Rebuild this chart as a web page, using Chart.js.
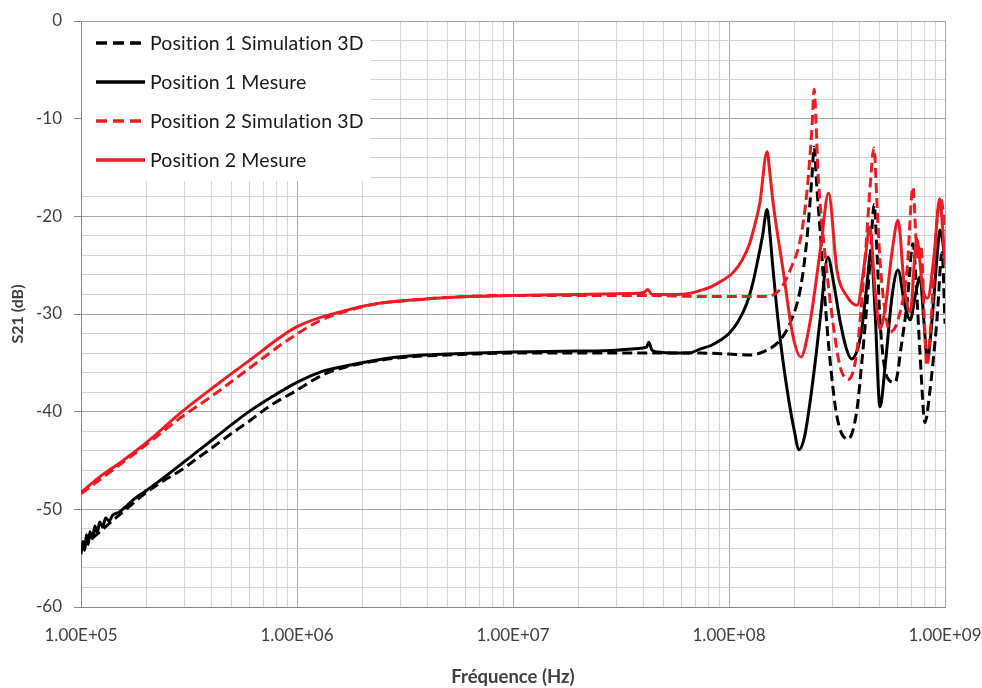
<!DOCTYPE html>
<html>
<head>
<meta charset="utf-8">
<title>S21</title>
<script src="https://cdn.jsdelivr.net/npm/chart.js@4.4.1/dist/chart.umd.min.js"></script>
<style>
  html, body { margin: 0; padding: 0; background: #fff; }
  #wrap { width: 982px; height: 688px; position: relative; }
</style>
</head>
<body>
<div id="wrap"><canvas id="chart"></canvas></div>
<script>
// Data: [frequency (Hz), S21 (dB)]
const p1Simulation = [
    [1.00e5, -54.0], [1.25e5, -52.1], [1.50e5, -50.6], [2.00e5, -48.3], [2.40e5, -47.1],
    [2.90e5, -46.0], [3.40e5, -44.9], [4.10e5, -43.6], [5.00e5, -42.2], [5.90e5, -41.1],
    [7.50e5, -39.4], [1.00e6, -37.8], [1.30e6, -36.3], [1.70e6, -35.4], [2.50e6, -34.7],
    [3.30e6, -34.4], [5.00e6, -34.2], [1.00e7, -34.0], [4.00e7, -34.0], [7.34e7, -34.0],
    [1.00e8, -34.1], [1.25e8, -34.2], [1.50e8, -33.7], [1.72e8, -32.7], [1.92e8, -30.9],
    [2.15e8, -27.2], [2.30e8, -22.1], [2.42e8, -16.0], [2.48e8, -12.9], [2.55e8, -17.0],
    [2.64e8, -21.4], [2.78e8, -28.5], [2.90e8, -33.5], [3.16e8, -40.5], [3.56e8, -42.8],
    [3.90e8, -40.0], [4.13e8, -34.7], [4.35e8, -29.0], [4.50e8, -24.5], [4.70e8, -18.8],
    [4.85e8, -24.0], [5.00e8, -30.6], [5.40e8, -36.5], [5.87e8, -37.0], [6.30e8, -33.0],
    [6.67e8, -28.9], [7.11e8, -22.8], [7.40e8, -28.0], [7.66e8, -34.0], [8.08e8, -41.1],
    [8.50e8, -38.0], [9.18e8, -30.6], [9.69e8, -23.7], [1.00e9, -31.0]
];

const p1Mesure = [
    [1.00e5, -54.6], [1.02e5, -53.3], [1.04e5, -54.2], [1.06e5, -52.6], [1.08e5, -53.6],
    [1.10e5, -52.3], [1.13e5, -53.0], [1.16e5, -51.7], [1.19e5, -52.4], [1.22e5, -51.3],
    [1.26e5, -51.8], [1.30e5, -50.9], [1.35e5, -51.2], [1.40e5, -50.6], [1.50e5, -50.3],
    [1.60e5, -49.8], [1.75e5, -49.0], [2.00e5, -48.1], [2.40e5, -46.8], [2.90e5, -45.4],
    [3.40e5, -44.2], [4.10e5, -42.8], [5.00e5, -41.3], [5.90e5, -40.1], [7.50e5, -38.6],
    [1.00e6, -37.0], [1.30e6, -35.9], [1.70e6, -35.3], [2.50e6, -34.6], [3.30e6, -34.3],
    [5.00e6, -34.1], [1.00e7, -33.9], [2.00e7, -33.8], [3.00e7, -33.7], [3.90e7, -33.5],
    [4.15e7, -33.4], [4.25e7, -32.9], [4.40e7, -33.7], [4.70e7, -33.9], [5.50e7, -34.0],
    [6.50e7, -34.0], [7.34e7, -33.6], [8.30e7, -33.2], [9.10e7, -32.7], [1.00e8, -32.0],
    [1.10e8, -30.8], [1.21e8, -28.9], [1.29e8, -26.8], [1.35e8, -24.8], [1.43e8, -22.0],
    [1.50e8, -19.3], [1.55e8, -22.0], [1.60e8, -25.5], [1.72e8, -32.3], [1.86e8, -37.8],
    [2.00e8, -41.8], [2.11e8, -43.9], [2.24e8, -42.5], [2.37e8, -39.1], [2.52e8, -34.5],
    [2.64e8, -30.6], [2.87e8, -24.2], [3.05e8, -26.8], [3.26e8, -30.6], [3.50e8, -33.6],
    [3.70e8, -34.6], [3.95e8, -33.5], [4.13e8, -31.3], [4.35e8, -27.0], [4.55e8, -23.5],
    [4.75e8, -30.0], [5.00e8, -39.5], [5.30e8, -35.0], [5.70e8, -28.0], [6.06e8, -25.5],
    [6.50e8, -29.0], [6.90e8, -30.6], [7.30e8, -28.0], [7.66e8, -26.2], [8.00e8, -31.0],
    [8.30e8, -34.7], [8.60e8, -32.0], [8.90e8, -28.0], [9.20e8, -24.0], [9.48e8, -21.4],
    [9.75e8, -22.5], [1.00e9, -24.8]
];

const p2Simulation = [
    [1.00e5, -48.4], [1.50e5, -45.5], [2.00e5, -43.4], [2.90e5, -40.6], [4.10e5, -38.3],
    [5.90e5, -35.7], [9.30e5, -32.5], [1.30e6, -30.6], [1.70e6, -29.7], [2.40e6, -28.9],
    [3.30e6, -28.6], [5.00e6, -28.3], [1.00e7, -28.1], [4.00e7, -28.1], [7.34e7, -28.2],
    [1.00e8, -28.2], [1.50e8, -28.2], [1.72e8, -27.5], [1.92e8, -25.5], [2.15e8, -22.1],
    [2.30e8, -17.3], [2.42e8, -11.0], [2.48e8, -7.0], [2.53e8, -10.5], [2.58e8, -15.3],
    [2.78e8, -23.8], [3.03e8, -30.9], [3.26e8, -35.3], [3.56e8, -36.7], [3.90e8, -34.0],
    [4.26e8, -24.5], [4.50e8, -17.0], [4.69e8, -13.0], [4.85e8, -19.0], [5.00e8, -24.5],
    [5.30e8, -30.0], [5.60e8, -31.8], [6.06e8, -30.6], [6.67e8, -25.5], [7.11e8, -17.0],
    [7.35e8, -22.5], [7.55e8, -24.5], [7.75e8, -23.0], [8.00e8, -30.0], [8.25e8, -35.3],
    [8.60e8, -31.0], [9.18e8, -20.4], [9.60e8, -18.3], [1.00e9, -21.5]
];

const p2Mesure = [
    [1.00e5, -48.3], [1.10e5, -47.5], [1.25e5, -46.5], [1.50e5, -45.3], [2.00e5, -43.2],
    [2.90e5, -40.1], [4.10e5, -37.5], [5.90e5, -34.9], [1.00e6, -31.3], [1.70e6, -29.6],
    [2.40e6, -28.9], [3.30e6, -28.6], [5.00e6, -28.3], [1.00e7, -28.1], [2.00e7, -28.0],
    [3.50e7, -27.9], [4.05e7, -27.8], [4.20e7, -27.5], [4.40e7, -28.0], [5.50e7, -28.0],
    [6.50e7, -27.9], [7.34e7, -27.6], [8.30e7, -27.2], [9.10e7, -26.7], [1.04e8, -25.8],
    [1.15e8, -24.5], [1.25e8, -22.7], [1.33e8, -20.5], [1.39e8, -18.6], [1.50e8, -13.4],
    [1.55e8, -15.8], [1.60e8, -18.6], [1.78e8, -25.5], [1.98e8, -32.3], [2.15e8, -34.4],
    [2.37e8, -30.9], [2.66e8, -23.1], [2.89e8, -17.6], [3.16e8, -25.5], [3.52e8, -28.2],
    [3.92e8, -29.1], [4.26e8, -24.5], [4.49e8, -21.1], [4.74e8, -27.5], [5.00e8, -31.5],
    [5.28e8, -29.5], [5.70e8, -23.5], [6.06e8, -20.4], [6.50e8, -27.5], [6.90e8, -29.8],
    [7.40e8, -22.3], [7.90e8, -27.5], [8.30e8, -28.4], [8.90e8, -24.0], [9.45e8, -18.2],
    [9.70e8, -20.5], [1.00e9, -25.0]
];

const seriesLabels = [
    'Position 1 Simulation 3D',
    'Position 1 Mesure',
    'Position 2 Simulation 3D',
    'Position 2 Mesure'
];

// axis ranges
const freqMin = 1e5;
const freqMax = 1e9;
const dbMin = -60;
const dbMax = 0;

const RED = '#ed1c24';
const BLACK = '#000000';
const GRID_MAJOR = '#a6a6a6';
const GRID_MINOR = '#d3d3d3';
const TEXT = '#404040';
const FONT = "Lato, 'Open Sans', sans-serif";

function toPoints(arr) {
    return arr.map(p => ({ x: p[0], y: p[1] }));
}

function isDecade(v) {
    const e = Math.log10(v);
    return Math.abs(e - Math.round(e)) < 1e-9;
}

// 1.00E+05 style labels
function sciLabel(v) {
    const exp = Math.round(Math.log10(v));
    const mant = (v / Math.pow(10, exp)).toFixed(2);
    return mant + 'E+' + String(exp).padStart(2, '0');
}

// log grid: 1..9 x 10^n
function logGridValues(min, max) {
    const vals = [];
    for (let e = Math.log10(min); e < Math.log10(max); e++) {
        for (let k = 1; k < 10; k++) vals.push(k * Math.pow(10, e));
    }
    vals.push(max);
    return vals;
}

function makeDataset(label, data, color, dashed, order) {
    return {
        label: label,
        data: toPoints(data),
        borderColor: color,
        backgroundColor: color,
        borderWidth: 3,
        borderDash: dashed ? [10, 5] : [],
        borderCapStyle: 'butt',
        borderJoinStyle: 'round',
        pointRadius: 0,
        fill: false,
        cubicInterpolationMode: 'monotone',
        order: order
    };
}

// legend drawn inside the plot area on a white box
const boxLegend = {
    id: 'boxLegend',
    afterDraw(chart) {
        const { ctx, chartArea } = chart;
        const left = chartArea.left;
        const top = chartArea.top;
        ctx.save();
        ctx.fillStyle = '#ffffff';
        ctx.fillRect(left + 1, top + 1, 288, 159);
        chart.data.datasets.forEach((ds, i) => {
            const y = top + 22 + i * 39;
            ctx.beginPath();
            ctx.strokeStyle = ds.borderColor;
            ctx.lineWidth = 3.5;
            ctx.setLineDash(ds.borderDash.length ? [11, 6] : []);
            ctx.moveTo(left + 15, y);
            ctx.lineTo(left + 64, y);
            ctx.stroke();
            ctx.setLineDash([]);
            ctx.fillStyle = '#1a1a1a';
            ctx.font = '19.5px ' + FONT;
            ctx.letterSpacing = '0.1px'; // keeps "ti" from joining
            ctx.textBaseline = 'middle';
            ctx.textAlign = 'left';
            ctx.fillText(ds.label, left + 69, y + 1);
        });
        ctx.restore();
    }
};

const ctx = document.getElementById('chart').getContext('2d');
new Chart(ctx, {
    type: 'line',
    data: {
        datasets: [
            makeDataset(seriesLabels[0], p1Simulation, BLACK, true, 4),
            makeDataset(seriesLabels[1], p1Mesure, BLACK, false, 3),
            makeDataset(seriesLabels[2], p2Simulation, RED, true, 2),
            makeDataset(seriesLabels[3], p2Mesure, RED, false, 1)
        ]
    },
    options: {
        responsive: true,
        maintainAspectRatio: false,
        animation: false,
        devicePixelRatio: 1,
        layout: { padding: { top: 21, right: 37, left: 0, bottom: 0 } },
        plugins: {
            legend: { display: false },
            tooltip: { enabled: false }
        },
        scales: {
            x: {
                type: 'logarithmic',
                min: freqMin,
                max: freqMax,
                afterBuildTicks: function(scale) {
                    scale.ticks = logGridValues(freqMin, freqMax).map(v => ({ value: v }));
                },
                afterFit: function(scale) {
                    scale.height = 81;
                    scale.paddingLeft = 0;
                    scale.paddingRight = 0;
                },
                grid: {
                    color: c => (c.tick && isDecade(c.tick.value)) ? GRID_MAJOR : GRID_MINOR,
                    lineWidth: 1,
                    drawTicks: false
                },
                border: { color: '#868686', width: 1 },
                ticks: {
                    autoSkip: false,
                    maxRotation: 0,
                    padding: 18,
                    color: TEXT,
                    font: { family: FONT, size: 17 },
                    callback: v => isDecade(v) ? sciLabel(v) : ''
                },
                title: {
                    display: true,
                    text: 'Fréquence (Hz)',
                    color: TEXT,
                    font: { family: FONT, size: 18.5, weight: 'bold' },
                    padding: { top: 0, bottom: 0 }
                }
            },
            y: {
                type: 'linear',
                min: dbMin,
                max: dbMax,
                afterFit: function(scale) {
                    scale.width = 81;
                    scale.paddingTop = 0;
                    scale.paddingBottom = 0;
                },
                grid: {
                    color: c => (c.tick && c.tick.value % 10 === 0) ? GRID_MAJOR : GRID_MINOR,
                    tickColor: c => (c.tick && c.tick.value % 10 === 0) ? '#868686' : 'rgba(0,0,0,0)',
                    tickLength: 7,
                    lineWidth: 1
                },
                border: { color: '#868686', width: 1 },
                ticks: {
                    stepSize: 2,
                    autoSkip: false,
                    padding: 12,
                    color: TEXT,
                    font: { family: FONT, size: 17 },
                    callback: v => v % 10 === 0 ? String(v) : ''
                },
                title: {
                    display: true,
                    text: 'S21 (dB)',
                    color: TEXT,
                    font: { family: FONT, size: 16, weight: 'bold' },
                    padding: { top: 8, bottom: 0 }
                }
            }
        }
    },
    plugins: [boxLegend]
});
</script>
</body>
</html>
